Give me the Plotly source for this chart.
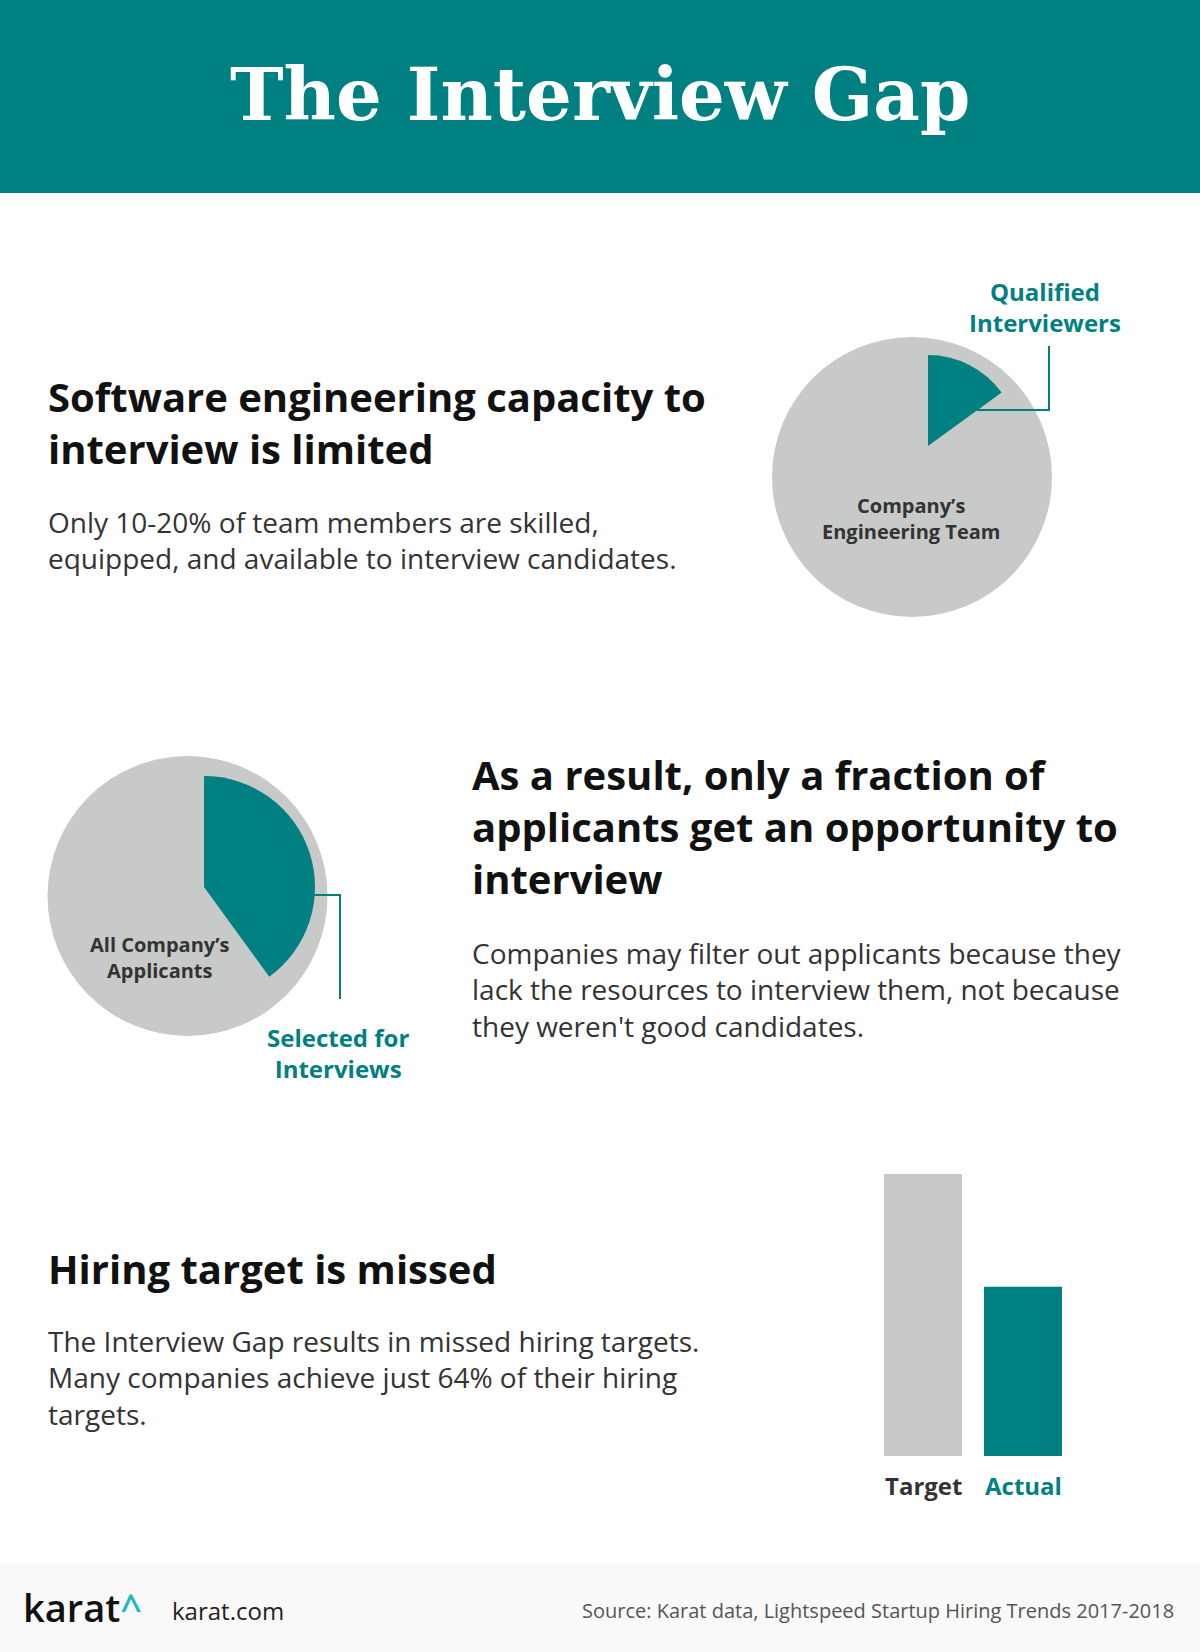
import plotly.graph_objects as go

W, H = 1200, 1652
TEAL = "#008080"
GRAY = "#c8c9c9"
DARK = "#111111"
BODY = "#333333"

# ---------------- data ----------------
title_text = "The Interview Gap"

pie1_labels = ["Company's Engineering Team"]
pie1_values = [100]
wedge1_labels = ["Qualified Interviewers", "Rest of team"]
wedge1_values = [15, 85]

pie2_labels = ["All Company's Applicants"]
pie2_values = [100]
wedge2_labels = ["Selected for Interviews", "Not selected"]
wedge2_values = [40, 60]

bar_categories = ["Target", "Actual"]
bar_values = [100, 60]

heading1 = "Software engineering capacity to<br>interview is limited"
body1 = "Only 10-20% of team members are skilled,<br>equipped, and available to interview candidates."
heading2 = "As a result, only a fraction of<br>applicants get an opportunity to<br>interview"
body2 = ("Companies may filter out applicants because they<br>lack the resources to interview them, not because<br>"
         "they weren't good candidates.")
heading3 = "Hiring target is missed"
body3 = ("The Interview Gap results in missed hiring targets.<br>Many companies achieve just 64% of their hiring<br>targets.")
source_text = "Source: Karat data, Lightspeed Startup Hiring Trends 2017-2018"


def px(x):
    return x / W


def py(y):
    return 1 - y / H


def dom(cx, cy, r):
    return dict(x=[px(cx - r), px(cx + r)], y=[py(cy + r), py(cy - r)])


fig = go.Figure()

# pie 1
fig.add_trace(go.Pie(values=pie1_values, labels=pie1_labels, marker=dict(colors=[GRAY], line=dict(width=0)),
                     textinfo="none", sort=False, showlegend=False, hoverinfo="label",
                     domain=dom(912, 477, 140)))
fig.add_trace(go.Pie(values=wedge1_values, labels=wedge1_labels,
                     marker=dict(colors=[TEAL, "rgba(0,0,0,0)"], line=dict(width=0)),
                     textinfo="none", sort=False, direction="clockwise", rotation=0,
                     showlegend=False, hoverinfo="label", domain=dom(928, 446, 91)))
# pie 2
fig.add_trace(go.Pie(values=pie2_values, labels=pie2_labels, marker=dict(colors=[GRAY], line=dict(width=0)),
                     textinfo="none", sort=False, showlegend=False, hoverinfo="label",
                     domain=dom(187.5, 896, 140)))
fig.add_trace(go.Pie(values=wedge2_values, labels=wedge2_labels,
                     marker=dict(colors=[TEAL, "rgba(0,0,0,0)"], line=dict(width=0)),
                     textinfo="none", sort=False, direction="clockwise", rotation=0,
                     showlegend=False, hoverinfo="label", domain=dom(204, 887, 111)))

# bars
fig.add_trace(go.Bar(x=bar_categories, y=bar_values, marker=dict(color=[GRAY, TEAL], line=dict(width=0)),
                     showlegend=False, hoverinfo="x+y"))

fig.update_layout(
    width=W, height=H,
    margin=dict(l=0, r=0, t=0, b=0),
    paper_bgcolor="white", plot_bgcolor="rgba(0,0,0,0)",
    bargap=0.22,
    xaxis=dict(domain=[px(873), px(1073)], range=[-0.5, 1.5], showgrid=False, zeroline=False,
               showticklabels=False, showline=False, fixedrange=True),
    yaxis=dict(domain=[py(1456), py(1174)], range=[0, 100], showgrid=False, zeroline=False,
               showticklabels=False, showline=False, fixedrange=True),
    font=dict(family="Open Sans", color=BODY),
)

shapes = [
    # header band
    dict(type="rect", xref="paper", yref="paper", x0=0, x1=1, y0=py(193), y1=1,
         fillcolor=TEAL, line=dict(width=0), layer="below"),
    # footer band
    dict(type="rect", xref="paper", yref="paper", x0=0, x1=1, y0=0, y1=py(1563),
         fillcolor="#f9f9f9", line=dict(width=0), layer="below"),
    # connector 1
    dict(type="path", xref="paper", yref="paper",
         path=f"M {px(977)} {py(410)} L {px(1049)} {py(410)} L {px(1049)} {py(346)}",
         line=dict(color=TEAL, width=2)),
    # connector 2
    dict(type="path", xref="paper", yref="paper",
         path=f"M {px(312)} {py(895)} L {px(340)} {py(895)} L {px(340)} {py(999)}",
         line=dict(color=TEAL, width=2)),
]

ann = []


def add_text(text, x, y, size, color, xanchor="left", bold=False, family="Open Sans", xref="paper"):
    t = f"<b>{text}</b>" if bold else text
    ann.append(dict(text=t, x=x if xref != "paper" else px(x), y=py(y), xref=xref, yref="paper",
                    xanchor=xanchor, yanchor="middle", align=xanchor if xanchor != "center" else "center",
                    showarrow=False, font=dict(family=family, size=size, color=color)))


add_text(title_text, 600, 94, 72, "white", xanchor="center", bold=True, family="DejaVu Serif")

add_text(heading1, 46, 423, 40, DARK, bold=True)
add_text(body1, 46, 540, 28, BODY)
add_text(heading2, 470, 826, 40, DARK, bold=True)
add_text(body2, 470, 989, 28, BODY)
add_text(heading3, 46, 1268, 40, DARK, bold=True)
add_text(body3, 46, 1377, 28, BODY)

add_text("Qualified<br>Interviewers", 1045, 307, 24, TEAL, xanchor="center", bold=True)
add_text("Company’s<br>Engineering Team", 911, 518, 20, BODY, xanchor="center", bold=True)
add_text("All Company’s<br>Applicants", 160, 958, 20, BODY, xanchor="center", bold=True)
add_text("Selected for<br>Interviews", 338, 1053, 24, TEAL, xanchor="center", bold=True)

# bar category labels placed on the bar x axis
for cat, col in zip(bar_categories, [BODY, TEAL]):
    ann.append(dict(text=f"<b>{cat}</b>", x=cat, y=py(1485), xref="x", yref="paper",
                    xanchor="center", yanchor="middle", showarrow=False,
                    font=dict(family="Open Sans", size=24, color=col)))

# footer
ann.append(dict(text="karat<span style='color:#22b8c0'>^</span>", x=px(21), y=py(1607), xref="paper", yref="paper",
                xanchor="left", yanchor="middle", showarrow=False,
                font=dict(family="Open Sans", size=38, color="#111111", weight=600)))
add_text("karat.com", 170, 1610, 24, "#222222")
add_text(source_text, 1176, 1610, 20, "#555555", xanchor="right")

fig.update_layout(shapes=shapes, annotations=ann)

fig.write_html("out.html", config={"displayModeBar": False},
               post_script="document.body.style.margin='0px';document.body.style.overflow='hidden';")
